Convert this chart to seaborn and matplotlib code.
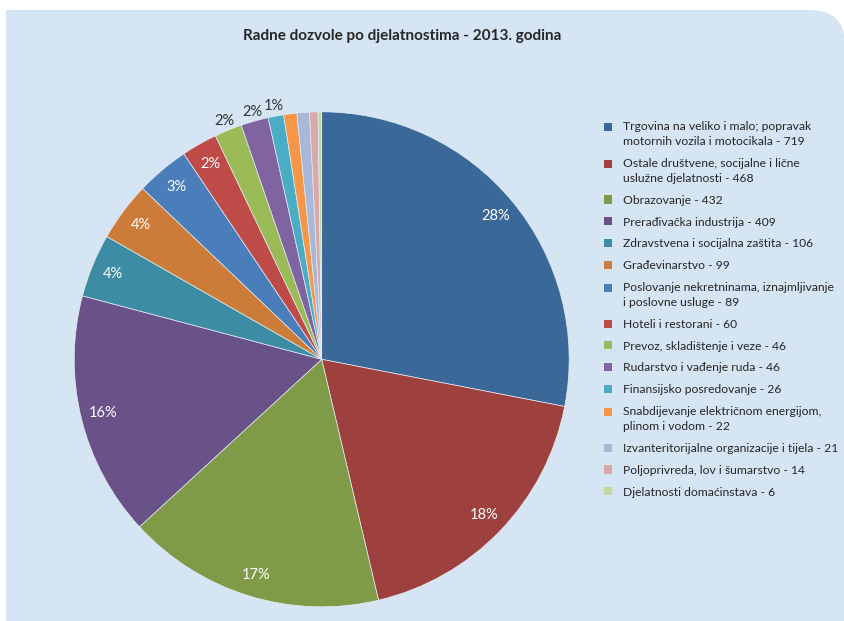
import matplotlib
matplotlib.use('Agg')
import matplotlib.pyplot as plt
import seaborn as sns
from matplotlib.patches import Patch, Rectangle, FancyBboxPatch
from matplotlib.legend_handler import HandlerPatch

# podaci: radne dozvole po djelatnostima, 2013.
categories = [
    'Trgovina na veliko i malo; popravak\nmotornih vozila i motocikala',
    'Ostale društvene, socijalne i lične\nuslužne djelatnosti',
    'Obrazovanje',
    'Prerađivačka industrija',
    'Zdravstvena i socijalna zaštita',
    'Građevinarstvo',
    'Poslovanje nekretninama, iznajmljivanje\ni poslovne usluge',
    'Hoteli i restorani',
    'Prevoz, skladištenje i veze',
    'Rudarstvo i vađenje ruda',
    'Finansijsko posredovanje',
    'Snabdijevanje električnom energijom,\nplinom i vodom',
    'Izvanteritorijalne organizacije i tijela',
    'Poljoprivreda, lov i šumarstvo',
    'Djelatnosti domaćinstava',
]
values = [719, 468, 432, 409, 106, 99, 89, 60, 46, 46, 26, 22, 21, 14, 6]

# gdje stoji oznaka postotka: unutra, van ili nigdje
label_pos = ['in'] * 8 + ['out'] * 3 + [''] * 4

colors = ['#3A6899', '#9E413E', '#7F9B48', '#695287', '#3C8DA3', '#CC7B38',
          '#4A7EBB', '#BE4B48', '#9BBB59', '#8064A2', '#4BACC6', '#F79646',
          '#A9B8D9', '#D9A8A7', '#C5D8A0']

sns.set_style('white')
plt.rcParams['font.family'] = ['Lato', 'DejaVu Sans']
bg = '#D5E5F4'
txt = '#262626'
leg_fs = 8.75
leg_ls = 1.45

fig = plt.figure(figsize=(8.45, 6.21), dpi=100, facecolor='white')

# pozadina sa zaobljenim gornjim desnim uglom
fig.patches.append(Rectangle((0.06, 0), 7.5, 6.11, transform=fig.dpi_scale_trans,
                             facecolor=bg, edgecolor='none', zorder=-5))
fig.patches.append(FancyBboxPatch((7.0, -1.0), 1.45, 7.11,
                                  boxstyle='round,pad=0,rounding_size=0.35',
                                  transform=fig.dpi_scale_trans,
                                  facecolor=bg, edgecolor='none', zorder=-5))

lim = 1.1
ax = fig.add_axes([0.0585, -0.017, 0.6444, 0.8768])
ax.set_facecolor('none')
wedges, texts, autotexts = ax.pie(
    values, colors=colors, startangle=90, counterclock=False,
    autopct='%1.0f%%', pctdistance=0.91,
    wedgeprops=dict(linewidth=0.5, edgecolor='#E4ECF4'),
    textprops=dict(color='white', fontsize=10.5))
ax.set_xlim(-lim, lim)
ax.set_ylim(-lim, lim)
ax.set_aspect('equal')

for t, pos in zip(autotexts, label_pos):
    if pos == 'out':
        x, y = t.get_position()
        t.set_position((x * 1.04 / 0.91, y * 1.04 / 0.91))
        t.set_color('#333333')
    elif pos == '':
        t.set_visible(False)


class SquareHandler(HandlerPatch):
    # kvadratić poravnat s prvim redom teksta
    def create_artists(self, legend, orig_handle, xdescent, ydescent,
                       width, height, fontsize, trans):
        n = orig_handle.get_label().count('\n')
        y = -ydescent + 0.5 * leg_ls * 0.84 * fontsize * n
        p = Rectangle((-xdescent, y), width, height,
                      facecolor=orig_handle.get_facecolor(), edgecolor='none',
                      transform=trans)
        return [p]


handles = [Patch(facecolor=c, label=f'{n} - {v}')
           for n, v, c in zip(categories, values, colors)]
leg = fig.legend(handles=handles, loc='upper left',
                 bbox_to_anchor=(604 / 845, 1 - 121 / 621),
                 frameon=False, fontsize=leg_fs, borderpad=0, borderaxespad=0,
                 handlelength=0.65, handleheight=0.65, handletextpad=0.9,
                 labelspacing=0.89,
                 handler_map={Patch: SquareHandler()})
for t in leg.get_texts():
    t.set_color(txt)
    t.set_linespacing(leg_ls)

fig.text(402 / 845, 1 - 36 / 621, 'Radne dozvole po djelatnostima - 2013. godina',
         ha='center', va='center', fontsize=11, fontweight='bold', color=txt)

fig.savefig('out.png', dpi=100, facecolor='white')
